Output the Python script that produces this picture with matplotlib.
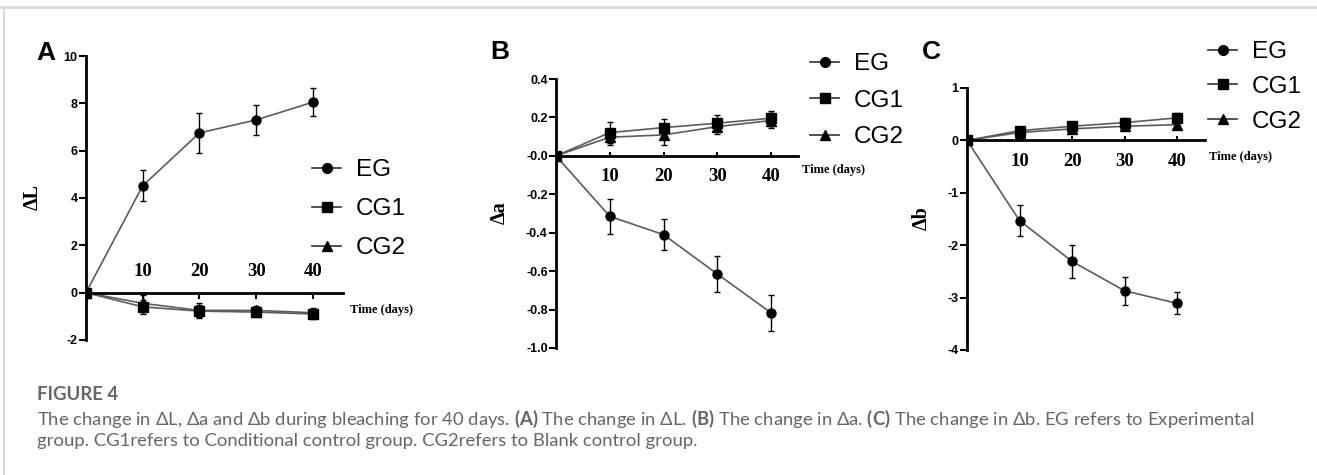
import matplotlib
matplotlib.use("Agg")
import matplotlib.pyplot as plt
from matplotlib.lines import Line2D
import numpy as np

plt.rcParams['axes.unicode_minus'] = False
plt.rcParams['mathtext.fontset'] = 'custom'
plt.rcParams['mathtext.rm'] = 'Lato'
plt.rcParams['mathtext.bf'] = 'Lato:bold'

days = [0, 10, 20, 30, 40]
groups = ["EG", "CG1", "CG2"]
markers = ["o", "s", "^"]

# delta L
dL_EG = [0, 4.52, 6.75, 7.3, 8.05]
dL_EG_sd = [0, 0.65, 0.85, 0.63, 0.6]
dL_CG1 = [0, -0.6, -0.78, -0.82, -0.9]
dL_CG1_sd = [0, 0.3, 0.25, 0.2, 0.2]
dL_CG2 = [0, -0.45, -0.75, -0.75, -0.85]
dL_CG2_sd = [0, 0.35, 0.3, 0.2, 0.2]

# delta a
da_EG = [0, -0.315, -0.41, -0.615, -0.817]
da_EG_sd = [0, 0.09, 0.08, 0.095, 0.095]
da_CG1 = [0, 0.121, 0.147, 0.17, 0.196]
da_CG1_sd = [0, 0.055, 0.045, 0.043, 0.04]
da_CG2 = [0, 0.097, 0.109, 0.152, 0.184]
da_CG2_sd = [0, 0.04, 0.05, 0.04, 0.04]

# delta b
db_EG = [0, -1.53, -2.31, -2.87, -3.11]
db_EG_sd = [0, 0.3, 0.32, 0.27, 0.21]
db_CG1 = [0, 0.185, 0.27, 0.34, 0.43]
db_CG1_sd = [0, 0.08, 0.07, 0.09, 0.1]
db_CG2 = [0, 0.15, 0.22, 0.27, 0.3]
db_CG2_sd = [0, 0.07, 0.07, 0.07, 0.09]

SERIF = "Liberation Serif"
SANS = "Liberation Sans"

fig = plt.figure(figsize=(13.17, 4.75), dpi=100)
W, H = 1317., 475.

def px_axes(l, r, t, b):
    return fig.add_axes([l / W, 1 - b / H, (r - l) / W, (b - t) / H])

panels = [
    dict(box=(86, 343, 56, 340), ylim=(-2, 10), yticks=np.arange(-2, 11, 2), fmt="%d",
         data=[(dL_EG, dL_EG_sd), (dL_CG1, dL_CG1_sd), (dL_CG2, dL_CG2_sd)],
         ylab="\u0394L", ylabxy=(-0.167, 0.503), letter="A", letterxy=(36, 53),
         top=True, timexy=(46.5, -0.72), xmax=45.3,
         leg=(312, 159), lsp=0.7),
    dict(box=(556, 798, 79, 348), ylim=(-1.0, 0.4), yticks=np.arange(-1.0, 0.41, 0.2), fmt="%.1f",
         data=[(da_EG, da_EG_sd), (da_CG1, da_CG1_sd), (da_CG2, da_CG2_sd)],
         ylab="\u0394a", ylabxy=(-0.19, 0.502), letter="B", letterxy=(490, 52),
         top=False, timexy=(45.8, -0.073), xmax=45.0,
         leg=(810, 53), lsp=0.6),
    dict(box=(967, 1205, 88, 350), ylim=(-4, 1), yticks=np.arange(-4, 2, 1), fmt="%d",
         data=[(db_EG, db_EG_sd), (db_CG1, db_CG1_sd), (db_CG2, db_CG2_sd)],
         ylab="\u0394b", ylabxy=(-0.147, 0.504), letter="C", letterxy=(922, 52),
         top=False, timexy=(46.1, -0.31), xmax=45.3,
         leg=(1208, 41), lsp=0.53),
]

for p in panels:
    ax = px_axes(*p["box"])
    handles = []
    for (vals, sd), m, g in zip(p["data"], markers, groups):
        ax.errorbar(days, vals, yerr=sd, fmt="none", ecolor="black",
                    elinewidth=1.0, capsize=2.5, capthick=1.0, zorder=3)
        ax.plot(days, vals, color="#5c5c5c", lw=1.2, zorder=2)
        ax.plot(days, vals, linestyle="none", marker=m, ms=6.5, color="black", zorder=4)
        handles.append(Line2D([], [], color="#333333", lw=1.2, marker=m, ms=7,
                              markerfacecolor="black", markeredgecolor="black", label=g))

    ax.set_xlim(0, p["xmax"])
    ax.set_ylim(*p["ylim"])
    ax.set_yticks(p["yticks"])
    ax.set_yticklabels([p["fmt"] % v for v in p["yticks"]])
    ax.set_xticks([10, 20, 30, 40])
    ax.set_xticklabels(["10", "20", "30", "40"])
    ax.spines["right"].set_visible(False)
    ax.spines["left"].set_linewidth(2)
    if p["top"]:
        ax.spines["bottom"].set_visible(False)
        ax.spines["top"].set_position(("data", 0))
        ax.spines["top"].set_linewidth(2)
        ax.xaxis.set_ticks_position("top")
        ax.tick_params(axis="x", direction="in", length=4, width=1.5, pad=9)
    else:
        ax.spines["top"].set_visible(False)
        ax.spines["bottom"].set_position(("data", 0))
        ax.spines["bottom"].set_linewidth(2)
        ax.tick_params(axis="x", direction="in", length=3, width=1.5, pad=9)
    ax.tick_params(axis="y", direction="out", length=5, width=1.5, pad=1)
    for lb in ax.get_xticklabels():
        lb.set_fontfamily(SERIF)
        lb.set_fontweight("bold")
        lb.set_fontsize(13.5)
    for lb in ax.get_yticklabels():
        lb.set_fontfamily(SANS)
        lb.set_fontweight("bold")
        lb.set_fontsize(9)
    ax.patch.set_visible(False)

    ax.set_ylabel(p["ylab"], fontfamily=SERIF, fontweight="bold", fontsize=14.5)
    ax.yaxis.set_label_coords(*p["ylabxy"])
    ax.text(p["timexy"][0], p["timexy"][1], "Time (days)", fontfamily=SERIF,
            fontweight="bold", fontsize=9, ha="left", va="center", clip_on=False)
    fig.text(p["letterxy"][0] / W, 1 - p["letterxy"][1] / H, p["letter"],
             fontfamily=SANS, fontweight="bold", fontsize=19, ha="left", va="center")

    fig.legend(handles=handles, loc="upper left",
               bbox_to_anchor=(p["leg"][0] / W, 1 - p["leg"][1] / H),
               frameon=False, borderpad=0, borderaxespad=0, handlelength=1.2,
               handletextpad=0.6, labelspacing=p["lsp"],
               prop=dict(family=SANS, size=17.5))

# frame lines of the page
fig.add_artist(Line2D([0, 1], [1 - 7 / H, 1 - 7 / H], color="#d9d9d9", lw=2))
fig.add_artist(Line2D([4 / W, 4 / W], [0, 1 - 7 / H], color="#d9d9d9", lw=1.5))

cap_col = "#666666"
fig.text(37 / W, 1 - 395 / H, "FIGURE 4", fontfamily="Lato", fontweight="bold",
         fontsize=13.3, color=cap_col, va="center", ha="left")
fig.text(37 / W, 1 - 419 / H,
         "The change in \u0394L, \u0394a and \u0394b during bleaching for 40 days. $\\bf{(A)}$ The change in \u0394L. "
         "$\\bf{(B)}$ The change in \u0394a. $\\bf{(C)}$ The change in \u0394b. EG refers to Experimental",
         fontfamily="Lato", fontsize=13.3, color=cap_col, va="center", ha="left")
fig.text(37 / W, 1 - 441 / H,
         "group. CG1refers to Conditional control group. CG2refers to Blank control group.",
         fontfamily="Lato", fontsize=13.3, color=cap_col, va="center", ha="left")

fig.savefig("out.png", dpi=100)
